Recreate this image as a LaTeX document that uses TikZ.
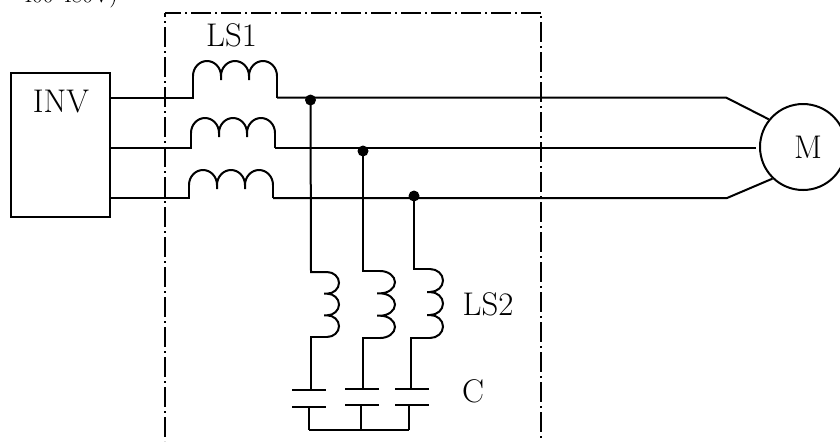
\documentclass[tikz,border=0pt]{standalone}
\tikzset{
    wire/.style={line width=1pt},
    frameline/.style={line width=1pt, dash pattern=on 10pt off 2pt on 1pt off 2pt, dash phase=#1},
    dot/.style={circle, fill=black, inner sep=0pt, minimum size=5.5pt},
    lbl/.style={font=\fontsize{16.4}{19}\selectfont, inner sep=0pt},
}
% coil lying along a wire: x, y of the arc feet
\newcommand{\coilh}[2]{
    \draw[wire] (#1, #2) arc[start angle=180, end angle=360, x radius=14, y radius=15] -- ++(0, 4) ++(0, -4)
        arc[start angle=180, end angle=360, x radius=14, y radius=15] -- ++(0, 4) ++(0, -4)
        arc[start angle=180, end angle=360, x radius=14, y radius=15];
}
% coil hanging down: x, y of the first foot, radii
\newcommand{\coilv}[4]{
    \draw[wire] (#1, #2) arc[start angle=-90, end angle=90, x radius=#3, y radius=#4] -- ++(-3, 0) ++(3, 0)
        arc[start angle=-90, end angle=90, x radius=#3, y radius=#4] -- ++(-3, 0) ++(3, 0)
        arc[start angle=-90, end angle=90, x radius=#3, y radius=#4];
}
\begin{document}
\begin{tikzpicture}[x=0.5pt, y=-0.5pt]
    \useasboundingbox (0, 0) rectangle (840, 441);
    \node[anchor=base west, inner sep=0pt, font=\fontsize{11}{13}\selectfont] (volt) at (21, 2.5) {400-480V)};

    % frame
    \coordinate (fa) at (165, 441);
    \coordinate (fb) at (165, 13);
    \coordinate (fc) at (541, 13);
    \coordinate (fd) at (541, 441);
    \draw[frameline=8pt] (fb) -- (fa);
    \draw[frameline=2pt] (fb) -- (fc);
    \draw[frameline=10.5pt] (fc) -- (fd);

    \node[draw, wire, minimum width=49.2pt, minimum height=72pt, inner sep=0pt] (inv) at (60.5, 145.3) {};
    \node[lbl, anchor=base] (invlbl) at (61, 112) {INV};
    \node[draw, wire, circle, minimum size=43pt, inner sep=0pt] (mot) at (803, 147) {};
    \node[lbl] (mlbl) at (808, 147.5) {M};
    \node[lbl, anchor=base] (lsa) at (231.5, 46) {LS1};
    \node[lbl, anchor=base] (lsb) at (488, 315) {LS2};
    \node[lbl, anchor=base] (clbl) at (473, 402) {C};

    % three phases
    \foreach \x/\yc/\yw/\n in {193/76/97.5/a, 191/133/148/b, 189/185/198/c} {
        \coordinate (\n1) at (\x, \yw);
        \coordinate (\n2) at (\x+84, \yw);
        \coilh{\x}{\yc}
        \draw[wire] (inv.east |- \n1) -- (\n1) -- (\x, \yc);
        \draw[wire] (\n2) -- (\x+84, \yc);
    }
    \coordinate (ta) at (726, 97.5);
    \coordinate (tc) at (727, 198);
    \draw[wire] (a2) -- (ta) -- (mot.141);
    \draw[wire, shorten >=1.5pt] (b2) -- (b2 -| mot.west);
    \draw[wire] (c2) -- (tc) -- (mot.226);

    \node[dot] (d1) at (310.5, 100) {};
    \node[dot] (d2) at (363, 151) {};
    \node[dot] (d3) at (414, 196) {};

    % branches with coil and capacitor
    \foreach \xa/\ya/\xb/\rx/\ry/\xc/\yb/\yp/\yq/\xp/\xs/\n in {
        311/272/327/12/10.83/311/337/390/407/309/309/1,
        363/271/380/15/11.17/363/338/389/405/362/361/2,
        414/269/430/13/11.5/411/338/389/405/412/409/3} {
        \draw[wire] (d\n.center) -- (\xa, \ya) -- (\xb, \ya);
        \coilv{\xb}{\ya}{\rx}{\ry}
        \draw[wire] (\xb, \yb) -- (\xc, \yb) -- (\xc, \yp);
        \draw[wire] (\xp-17, \yp) -- (\xp+17, \yp);
        \draw[wire] (\xp-17, \yq) -- (\xp+17, \yq);
        \coordinate (s\n) at (\xs, 430);
        \draw[wire] (\xs, \yq) -- (s\n);
    }
    \draw[wire] (s1) -- (s3);
\end{tikzpicture}
\end{document}
